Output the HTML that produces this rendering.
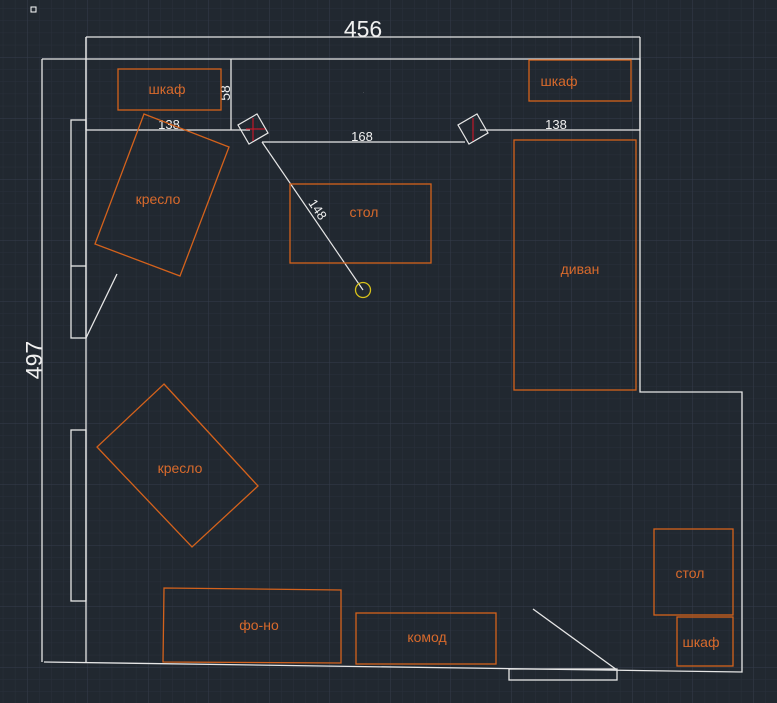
<!DOCTYPE html>
<html><head><meta charset="utf-8"><style>
html,body{margin:0;padding:0;background:#212830;}
svg{display:block;}
text{font-family:"Liberation Sans",sans-serif;}
.o{fill:none;stroke:#d4621c;stroke-width:1.3;}
.ot{fill:#d86a2c;font-size:14px;text-anchor:middle;}
.w{fill:none;stroke:#e6e6e6;stroke-width:1.3;}
.wt{fill:#f0f0f0;text-anchor:middle;}
</style></head><body>
<svg width="777" height="703" viewBox="0 0 777 703" xmlns="http://www.w3.org/2000/svg">
<defs>
<pattern id="minor" width="12.1" height="12.2" patternUnits="userSpaceOnUse" x="27" y="-4">
<path d="M0 0H12.1M0 0V12.2" stroke="#29303b" stroke-width="1" fill="none"/>
</pattern>
<pattern id="major" width="60.5" height="61" patternUnits="userSpaceOnUse" x="27" y="-4">
<path d="M0 0H60.5M0 0V61" stroke="#353d4b" stroke-width="1" fill="none"/>
</pattern>
</defs>
<rect width="777" height="703" fill="#212830"/>
<rect width="777" height="703" fill="url(#minor)"/>
<rect width="777" height="703" fill="url(#major)"/>

<rect x="31" y="7" width="5" height="5" fill="none" stroke="#fff" stroke-width="1"/>

<path class="w" d="M86 37H640M86 37V130M640 37V130"/>
<text class="wt" x="363" y="37" font-size="23">456</text>
<text class="wt" font-size="23" transform="translate(42,360) rotate(-90)">497</text>
<path class="w" d="M231 59V130"/>
<text class="wt" font-size="14" transform="translate(230,93) rotate(-90)">58</text>
<path class="w" d="M86 130H250M480 130H640M262 142H465"/>
<text class="wt" x="169" y="129" font-size="13">138</text>
<text class="wt" x="556" y="129" font-size="13">138</text>
<text class="wt" x="362" y="141" font-size="13">168</text>

<path class="w" d="M42 59H640V392H742V672L44 662M42 59V662"/>
<path class="w" d="M86 37V662"/>
<rect class="w" x="71" y="120" width="15" height="218"/>
<path class="w" d="M71 266H86"/>
<rect class="w" x="71" y="430" width="15" height="171"/>
<path class="w" d="M86 338L117 274M533 609L617 670"/>
<rect class="w" x="509" y="669" width="108" height="11"/>

<g transform="translate(253,129) rotate(-30)"><rect x="-11" y="-11" width="22" height="22" fill="none" stroke="#e6e6e6" stroke-width="1.2"/></g>
<path d="M253 118V141M246 129H265" stroke="#c0182a" stroke-width="1.2"/>
<g transform="translate(473,129) rotate(-30)"><rect x="-11" y="-11" width="22" height="22" fill="none" stroke="#e6e6e6" stroke-width="1.2"/></g>
<path d="M473 118V141" stroke="#c0182a" stroke-width="1.2"/>
<path d="M262 142L363 290" stroke="#e6e6e6" stroke-width="1.2"/>
<text class="wt" font-size="13" transform="translate(314,212) rotate(56)">148</text>
<circle cx="363" cy="290" r="7.5" fill="none" stroke="#d8c21a" stroke-width="1.3"/>
<text x="363" y="93" fill="#ddd" font-size="4">.</text>

<rect class="o" x="118" y="69" width="103" height="41"/>
<text class="ot" x="167" y="94">шкаф</text>
<rect class="o" x="529" y="60" width="102" height="41"/>
<text class="ot" x="559" y="86">шкаф</text>
<polygon class="o" points="144,114 229,147 180,276 95,244"/>
<text class="ot" x="158" y="204">кресло</text>
<rect class="o" x="290" y="184" width="141" height="79"/>
<text class="ot" x="364" y="217">стол</text>
<rect class="o" x="514" y="140" width="122" height="250"/>
<text class="ot" x="580" y="274">диван</text>
<polygon class="o" points="164,384 258,486 192,547 97,447"/>
<text class="ot" x="180" y="473">кресло</text>
<polygon class="o" points="164,588 341,590 341,663 163,662"/>
<text class="ot" x="259" y="630">фо-но</text>
<rect class="o" x="356" y="613" width="140" height="51"/>
<text class="ot" x="427" y="642">комод</text>
<rect class="o" x="654" y="529" width="79" height="86"/>
<text class="ot" x="690" y="578">стол</text>
<rect class="o" x="677" y="617" width="56" height="49"/>
<text class="ot" x="701" y="647">шкаф</text>
</svg>
</body></html>
